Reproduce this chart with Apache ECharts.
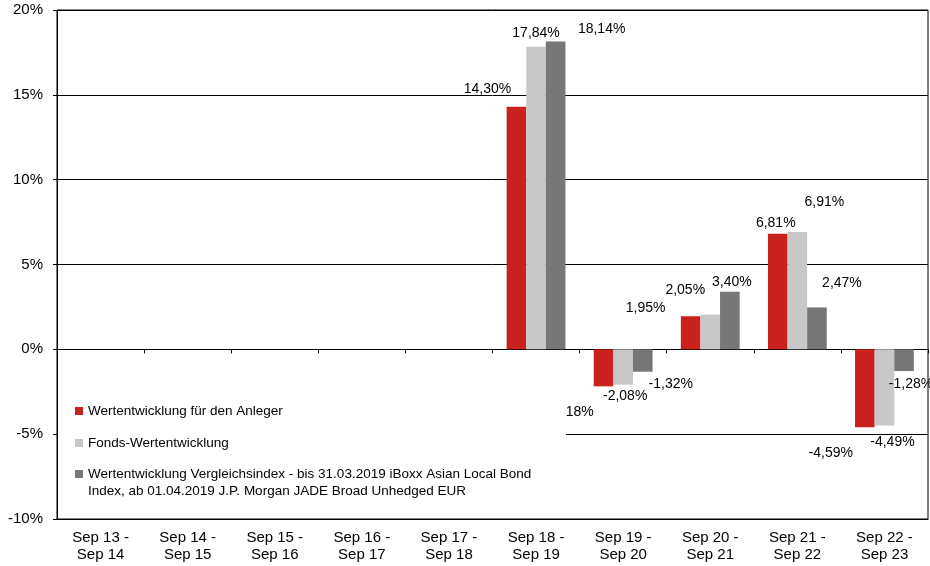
<!DOCTYPE html>
<html>
<head>
    <meta charset="utf-8">
    <script src="https://cdn.jsdelivr.net/npm/echarts@6/dist/echarts.min.js"></script>
    <style>
        html, body { margin: 0; padding: 0; background: #fff; }
        #container { width: 930px; height: 566px; }
    </style>
</head>
<body>
<div id="container"></div>
<script>
    var categories = ['Sep 13 -\nSep 14', 'Sep 14 -\nSep 15', 'Sep 15 -\nSep 16', 'Sep 16 -\nSep 17', 'Sep 17 -\nSep 18',
        'Sep 18 -\nSep 19', 'Sep 19 -\nSep 20', 'Sep 20 -\nSep 21', 'Sep 21 -\nSep 22', 'Sep 22 -\nSep 23'];
    var seriesNames = [
        'Wertentwicklung für den Anleger',
        'Fonds-Wertentwicklung',
        'Wertentwicklung Vergleichsindex - bis 31.03.2019 iBoxx Asian Local Bond Index, ab 01.04.2019 J.P. Morgan JADE Broad Unhedged EUR'
    ];
    var anleger = [null, null, null, null, null, 14.30, -2.18, 1.95, 6.81, -4.59];
    var fonds = [null, null, null, null, null, 17.84, -2.08, 2.05, 6.91, -4.49];
    var vergleich = [null, null, null, null, null, 18.14, -1.32, 3.40, 2.47, -1.28];

    // label nudges (px) like in the original excel chart
    var labelOffsets = [
        [null, null, null, null, null, [-29, -6], [-32, 14], [-45, 4], [-2, 1], [-34, 14]],
        [null, null, null, null, null, [0, -2], [2, 0], [-25, -12], [27, -18], [8, 5]],
        [null, null, null, null, null, [46, 0], [28, 0], [2, 2], [25, -12], [7, 1]]
    ];
    var colors = ['#c9211e', '#c8c8c8', '#777777'];
    var font = 'Liberation Sans, Arial, sans-serif';

    function fmt(v) {
        return v.toFixed(2).replace('.', ',') + '%';
    }

    function buildData(values, offs) {
        return values.map(function (v, i) {
            if (v === null) return null;
            return {
                value: v,
                label: {
                    position: v < 0 ? 'bottom' : 'top',
                    offset: offs[i] || [0, 0]
                }
            };
        });
    }

    var allValues = [anleger, fonds, vergleich];
    var series = allValues.map(function (vals, k) {
        return {
            name: seriesNames[k],
            type: 'bar',
            barWidth: 19.6,
            barGap: '0%',
            itemStyle: { color: colors[k] },
            label: {
                show: true,
                color: '#000',
                fontSize: 14,
                fontFamily: font,
                distance: 5,
                formatter: function (p) { return fmt(p.value); }
            },
            data: buildData(vals, labelOffsets[k])
        };
    });

    var chart = echarts.init(document.getElementById('container'));
    var option = {
        animation: false,
        backgroundColor: '#fff',
        textStyle: { fontFamily: font },
        grid: {
            left: 57, right: 2, top: 10, bottom: 47,
            show: true, borderColor: '#000', borderWidth: 1
        },
        graphic: [{
            type: 'rect',
            z: 3,
            shape: { x: 58, y: 392, width: 508, height: 126 },
            style: { fill: '#fff' }
        }],
        legend: [{
            orient: 'vertical',
            left: 75,
            top: 402.5,
            padding: 0,
            itemGap: 15,
            itemWidth: 8,
            itemHeight: 8,
            icon: 'rect',
            textStyle: { color: '#000', fontSize: 13.5, lineHeight: 17, fontFamily: font },
            data: [seriesNames[0], seriesNames[1]]
        }, {
            orient: 'vertical',
            left: 75,
            top: 448.5,
            padding: 0,
            itemWidth: 8,
            itemHeight: 8,
            icon: 'rect',
            // leading blank line keeps the icon level with the first text line
            formatter: function (name) { return ' \n' + name.replace(' Bond Index,', ' Bond\nIndex,'); },
            textStyle: { color: '#000', fontSize: 13.5, lineHeight: 17, fontFamily: font },
            data: [seriesNames[2]]
        }],
        xAxis: [{
            type: 'category',
            data: categories,
            position: 'bottom',
            axisLine: { onZero: false, lineStyle: { color: '#000' } },
            axisTick: { show: false },
            axisLabel: { interval: 0, color: '#000', fontSize: 15, lineHeight: 17, margin: 10, fontFamily: font }
        }, {
            type: 'category',
            data: categories,
            position: 'top',
            axisLine: { onZero: true, lineStyle: { color: '#000' } },
            axisTick: { show: true, inside: true, length: 4, lineStyle: { color: '#000' } },
            axisLabel: { show: false }
        }],
        yAxis: {
            type: 'value',
            min: -10,
            max: 20,
            interval: 5,
            axisLine: { show: true, lineStyle: { color: '#000' } },
            axisTick: { show: true, length: 4, lineStyle: { color: '#000' } },
            splitLine: { lineStyle: { color: '#000', width: 1 } },
            axisLabel: {
                color: '#000', fontSize: 15, margin: 14, fontFamily: font,
                formatter: '{value}%'
            }
        },
        series: series
    };
    chart.setOption(option);
</script>
</body>
</html>
